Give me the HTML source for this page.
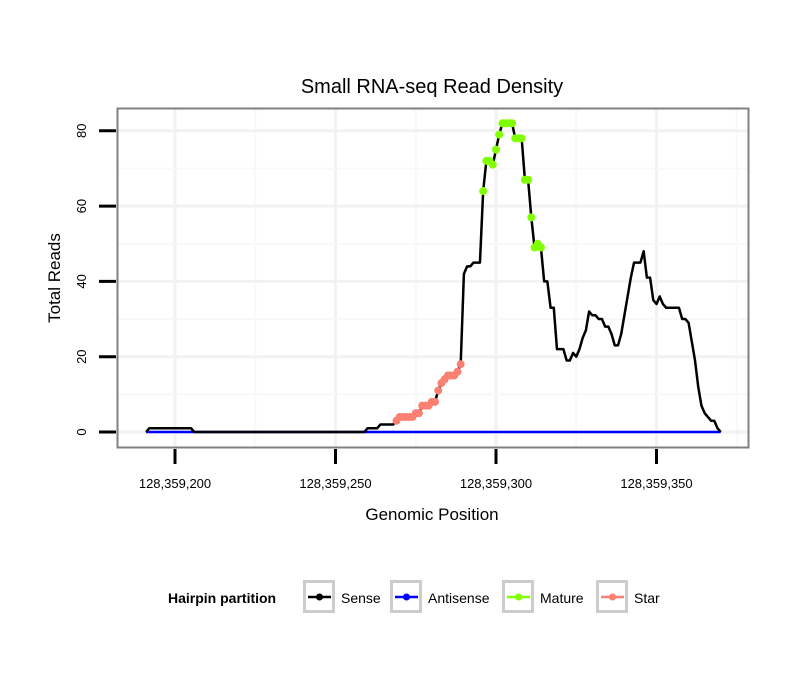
<!DOCTYPE html>
<html><head><meta charset="utf-8"><style>
body{margin:0;background:#fff;}
svg text{font-family:"Liberation Sans",sans-serif;}
</style></head><body>
<svg id="chart" width="810" height="690" xmlns="http://www.w3.org/2000/svg">
<rect width="810" height="690" fill="#fff"/>
<text x="432" y="93" font-size="20" text-anchor="middle">Small RNA-seq Read Density</text>
<g id="grid"></g>
<g id="series"></g>
<rect x="117.5" y="108.5" width="631" height="339" fill="none" stroke="#808080" stroke-width="2"/>
<g id="axes"></g>
<text x="432" y="520" font-size="17" text-anchor="middle">Genomic Position</text>
<text transform="translate(60,278) rotate(-90)" font-size="17" text-anchor="middle">Total Reads</text>
<g>
<text x="168" y="603" font-size="14" font-weight="bold">Hairpin partition</text>
<g id="legend"></g>
</g>
</svg>
<script>
const positions = [];
for (let p = 191; p <= 370; p++) positions.push(p);
// reads at 191..205
const senseHead = [0,1,1,1,1,1,1,1,1,1,1,1,1,1,1];
// reads at 260..370
const senseTail = [1,1,1,1,2,2,2,2,2,
3,4,4,4,4,4,5,5,7,7,7,8,8,11,13,14,15,15,15,16,18,
42,44,44,45,45,45,
64,72,72,71,75,79,82,82,82,82,78,78,78,67,67,57,49,50,49,
40,40,33,33,22,22,22,19,19,21,20,22,25,27,32,31,31,30,30,28,28,26,23,23,26,31,36,41,45,45,45,48,
41,41,35,34,36,34,33,33,33,33,33,30,30,29,24,19,12,7,5,4,3,3,1,0];
const senseValues = positions.map(p => p <= 205 ? senseHead[p-191] : (p >= 260 ? senseTail[p-260] : 0));
const antisenseValues = positions.map(() => 0);
const starStart = 269, starEnd = 289;
const matureStart = 296, matureEnd = 314;
const xTicks = [128359200, 128359250, 128359300, 128359350];
const xTickLabels = ["128,359,200","128,359,250","128,359,300","128,359,350"];
const yTicks = [0,20,40,60,80];
const legendLabels = ["Sense","Antisense","Mature","Star"];
const legendColors = ["#000000","#0000ff","#7fff00","#fa8072"];

const NS = "http://www.w3.org/2000/svg";
const base = 128359000;
const xs = g => 175 + (g - 128359200) * 3.21;
const ys = v => 432 - v * 3.765;
function mk(tag, attrs, parent){ const e=document.createElementNS(NS,tag); for(const k in attrs) e.setAttribute(k,attrs[k]); parent.appendChild(e); return e; }

const grid = document.getElementById('grid');
const xMinor = [128359175,128359225,128359275,128359325,128359375];
xTicks.forEach(t=>{
  const l = mk('line',{x1:xs(t),x2:xs(t),y1:109,y2:447,stroke:'#f2f2f2','stroke-width':3},grid);
  
  
});
xMinor.forEach(t=>{
  if (xs(t)<118||xs(t)>748) return;
  const m = mk('line',{x1:xs(t),x2:xs(t),y1:109,y2:447,stroke:'#f8f8f8','stroke-width':2},grid);
  
  
});
yTicks.forEach(t=>{
  const l = mk('line',{x1:118,x2:748,y1:ys(t),y2:ys(t),stroke:'#f2f2f2','stroke-width':3},grid);
  
  
  if (ys(t+10) > 110) {
    const m = mk('line',{x1:118,x2:748,y1:ys(t+10),y2:ys(t+10),stroke:'#f8f8f8','stroke-width':2},grid);
    
    
  }
});

const ser = document.getElementById('series');
const asPts = positions.map((p,i)=>xs(base+p)+','+ys(antisenseValues[i])).join(' ');
const a = mk('polyline',{points:asPts,fill:'none',stroke:'#0000ff','stroke-width':2.5},ser);


const sPts = positions.map((p,i)=>xs(base+p)+','+ys(senseValues[i])).join(' ');
const s = mk('polyline',{points:sPts,fill:'none',stroke:'#000','stroke-width':2.5,'stroke-linejoin':'round'},ser);


positions.forEach((p,i)=>{
  let col=null, nm=null;
  if (p>=starStart && p<=starEnd){col='#fa8072';nm='star-point';}
  if (p>=matureStart && p<=matureEnd){col='#7fff00';nm='mature-point';}
  if (!col) return;
  const c = mk('circle',{cx:xs(base+p),cy:ys(senseValues[i]),r:4,fill:col},ser);
  
  
});

const ax = document.getElementById('axes');
xTicks.forEach((t,i)=>{
  const l = mk('line',{x1:xs(t),x2:xs(t),y1:449,y2:464,stroke:'#000','stroke-width':3},ax);
  
  
  const tx = mk('text',{x:xs(t),y:488,'font-size':13,'text-anchor':'middle'},ax);
  tx.textContent = xTickLabels[i];
  
  
});
yTicks.forEach(t=>{
  const l = mk('line',{x1:99,x2:116,y1:ys(t),y2:ys(t),stroke:'#000','stroke-width':3},ax);
  
  
  const tx = mk('text',{transform:`translate(86,${ys(t)}) rotate(-90)`,'font-size':13,'text-anchor':'middle'},ax);
  tx.textContent = String(t);
  
  
});

const lg = document.getElementById('legend');
const boxX = [303,390,502,596];
legendLabels.forEach((lab,i)=>{
  const g = mk('g',{},lg);
  
  
  mk('rect',{x:boxX[i]+1.5,y:581.5,width:29,height:30,fill:'#fff',stroke:'#cccccc','stroke-width':3},g);
  mk('line',{x1:boxX[i]+5,x2:boxX[i]+28,y1:597,y2:597,stroke:legendColors[i],'stroke-width':2.5},g);
  mk('circle',{cx:boxX[i]+16.5,cy:597,r:3.5,fill:legendColors[i]},g);
  const t = mk('text',{x:boxX[i]+38,y:603,'font-size':14},g);
  t.textContent = lab;
});
</script>
</body></html>
